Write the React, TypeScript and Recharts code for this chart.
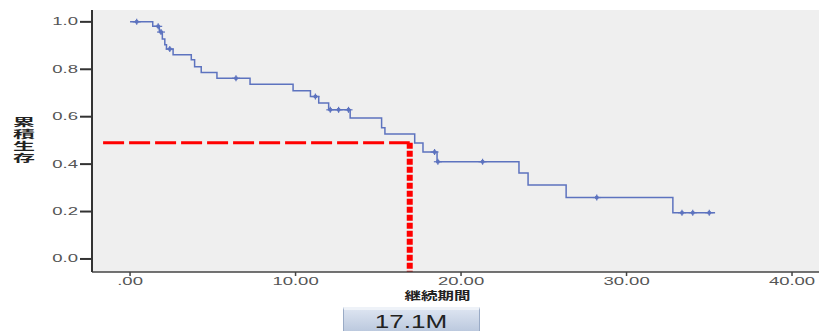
import { ComposedChart, Line, Scatter, XAxis, YAxis, CartesianGrid, ReferenceLine, Label } from 'recharts';

// step points of the survival curve (time, cumulative survival)
const survTimes = [0, 1.37, 1.77, 1.95, 2.1, 2.2, 2.6, 3.7, 3.9, 4.3, 5.25, 7.25, 9.85, 10.9, 11.4, 12.0, 13.3, 15.2, 15.4, 17.2, 17.7, 18.55, 23.5, 24.05, 26.35, 32.8, 35.35];
const survValues = [1.0, 0.981, 0.957, 0.928, 0.903, 0.885, 0.861, 0.84, 0.811, 0.786, 0.762, 0.737, 0.709, 0.685, 0.658, 0.629, 0.595, 0.553, 0.527, 0.489, 0.451, 0.41, 0.363, 0.312, 0.259, 0.195, 0.195];

// censored cases
const censorTimes = [0.4, 1.7, 1.87, 2.4, 6.4, 11.2, 12.1, 12.6, 13.2, 18.4, 18.6, 21.3, 28.2, 33.35, 34.0, 35.0];
const censorValues = [1.0, 0.981, 0.957, 0.885, 0.762, 0.685, 0.629, 0.629, 0.629, 0.451, 0.41, 0.41, 0.259, 0.195, 0.195, 0.195];

const xTicks = [0, 10, 20, 30, 40];
const yTicks = [0, 0.2, 0.4, 0.6, 0.8, 1.0];

const medianTime = 16.9;
const medianLevel = 0.49;
const guideStart = -1.63;
const medianLabel = '17.1M';

const curveData = survTimes.map((t, i) => ({ t, s: survValues[i] }));
const censorData = censorTimes.map((t, i) => ({ t, s: censorValues[i] }));

const BLUE = '#5d73bf';

const XTick = (props: any) => {
  const { x, y, payload } = props;
  const v = payload.value;
  const txt = v === 0 ? '.00' : v.toFixed(2);
  return (
    <g transform={`translate(${x},${y})`}>
      <text transform="scale(1.85,1)" textAnchor="middle" dy="0.71em" fontSize={10} fill="#555" fontFamily="Liberation Sans, Arial, sans-serif">
        {txt}
      </text>
    </g>
  );
};

const YTick = (props: any) => {
  const { x, y, payload } = props;
  return (
    <g transform={`translate(${x},${y})`}>
      <text transform="scale(1.85,1)" textAnchor="end" dy="0.35em" fontSize={10} fill="#555" fontFamily="Liberation Sans, Arial, sans-serif">
        {payload.value.toFixed(1)}
      </text>
    </g>
  );
};

const CensorMark = (props: any) => {
  const { cx, cy } = props;
  return (
    <g stroke={BLUE} fill={BLUE}>
      <line x1={cx} y1={cy - 3} x2={cx} y2={cy + 3} strokeWidth={1.2} />
      <line x1={cx - 4} y1={cy} x2={cx + 4} y2={cy} strokeWidth={1.2} />
      <circle cx={cx} cy={cy} r={2} stroke="none" />
    </g>
  );
};

const XTitle = (props: any) => {
  const { viewBox } = props;
  const cx = viewBox.x + viewBox.width / 2 - 18;
  return (
    <g transform={`translate(${cx},${viewBox.y + 24})`}>
      <text transform="scale(1.5,1)" textAnchor="middle" dy="0.35em" fontSize={11} fontWeight="bold" fill="#222" fontFamily="Noto Sans CJK JP">
        継続期間
      </text>
    </g>
  );
};

const YTitle = (props: any) => {
  const { viewBox } = props;
  const midY = viewBox.y + viewBox.height / 2;
  return (
    <g transform={`translate(24,${midY})`}>
      <text
        transform="scale(2.2,1)"
        textAnchor="middle"
        fontSize={10}
        fontWeight="bold"
        fill="#222"
        fontFamily="Noto Sans CJK JP"
        letterSpacing={2}
        style={{ writingMode: 'vertical-rl' }}
      >
        累積生存
      </text>
    </g>
  );
};

export default function App() {
  return (
    <div style={{ position: 'absolute', left: 0, top: 0, width: 819, height: 331, background: '#fff', overflow: 'hidden' }}>
      <ComposedChart width={819} height={331} data={curveData} margin={{ top: 10, right: 0, left: 0, bottom: 26 }}>
        <CartesianGrid horizontal={false} vertical={false} fill="#efefef" />
        <XAxis
          dataKey="t"
          type="number"
          domain={[-2.3, 41.63]}
          allowDataOverflow
          ticks={xTicks}
          tick={<XTick />}
          tickSize={4}
          tickMargin={2}
          height={33}
          stroke="#444"
          strokeWidth={1.5}
        >
          <Label content={<XTitle />} />
        </XAxis>
        <YAxis
          type="number"
          domain={[-0.055, 1.05]}
          allowDataOverflow
          ticks={yTicks}
          tick={<YTick />}
          tickSize={12}
          tickMargin={2}
          width={92}
          stroke="#333"
          strokeWidth={2}
        >
          <Label content={<YTitle />} />
        </YAxis>
        <Line
          type="stepAfter"
          dataKey="s"
          stroke={BLUE}
          strokeWidth={1.5}
          dot={false}
          activeDot={false}
          isAnimationActive={false}
        />
        <Scatter data={censorData} dataKey="s" shape={<CensorMark />} isAnimationActive={false} />
        <ReferenceLine
          segment={[{ x: guideStart, y: medianLevel }, { x: medianTime, y: medianLevel }]}
          stroke="#ff0000"
          strokeWidth={3}
          strokeDasharray="21 5"
        />
        <ReferenceLine
          segment={[{ x: medianTime, y: medianLevel }, { x: medianTime, y: -0.055 }]}
          stroke="#ff0000"
          strokeWidth={6}
          strokeDasharray="6 2"
        />
      </ComposedChart>
      <div
        style={{
          position: 'absolute',
          left: 343,
          top: 307,
          width: 137,
          height: 30,
          boxSizing: 'border-box',
          background: 'linear-gradient(#dbe3f0, #b4c3da)',
          border: '1px solid #9aabc6',
          borderTop: '3px solid #eef2f8',
          textAlign: 'center',
          lineHeight: '24px',
          fontFamily: 'Liberation Sans, Arial, sans-serif',
          fontSize: 18,
          color: '#222',
        }}
      >
        <span style={{ display: 'inline-block', transform: 'scaleX(1.45)' }}>{medianLabel}</span>
      </div>
    </div>
  );
}
